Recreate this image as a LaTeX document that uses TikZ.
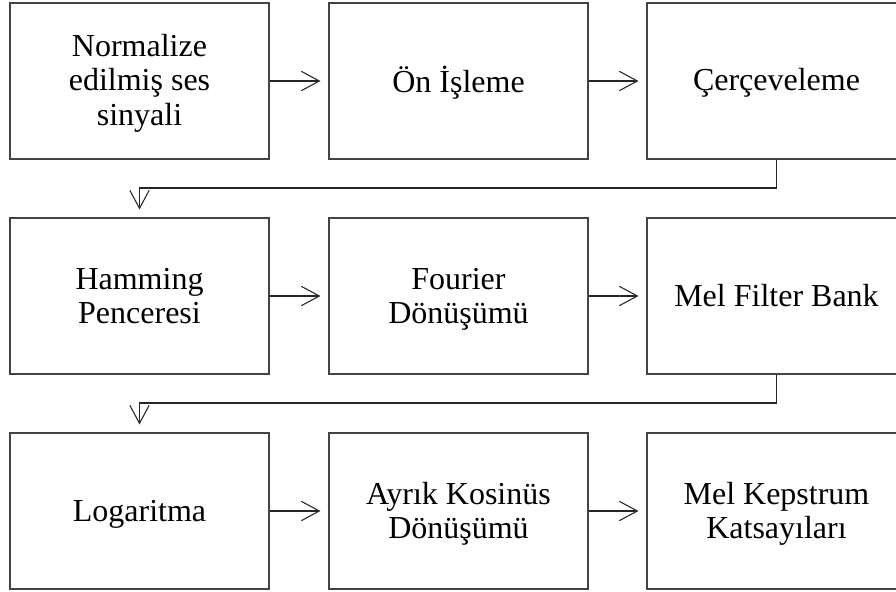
\documentclass[tikz,border=0pt]{standalone}
\usepackage{fontspec}
\setmainfont{Liberation Serif}
\usetikzlibrary{arrows.meta}
\definecolor{boxgray}{HTML}{444444}
\newcommand{\bxt}[1]{\raisebox{-2.4pt}[\height][\depth]{\begin{tabular}{@{}c@{}}#1\end{tabular}}}
\begin{document}
\begin{tikzpicture}[x=0.75pt,y=-0.75pt,
  stepbox/.style={draw=boxgray,line width=0.8pt,minimum width=194.25pt,minimum height=117pt,
    inner sep=0pt,align=center,font=\fontsize{24}{25.5}\selectfont,text=black},
  arr/.style={draw=black!85,line width=0.8pt,-{Straight Barb[length=13.5pt,width=14.5pt,line width=0.8pt]},shorten >=6pt}]
\useasboundingbox (0,0) rectangle (896,592);
\fill[white] (0,0) rectangle (896,592);
\node[stepbox] (a) at (139.5,81) {\bxt{Normalize\\edilmiş ses\\sinyali}};
\node[stepbox] (b) at (458.5,81) {\bxt{Ön İşleme}};
\node[stepbox] (c) at (776.5,81) {\bxt{Çerçeveleme}};
\node[stepbox] (d) at (139.5,296) {\bxt{Hamming\\Penceresi}};
\node[stepbox] (e) at (458.5,296) {\bxt{Fourier\\Dönüşümü}};
\node[stepbox] (f) at (776.5,296) {\bxt{Mel Filter Bank}};
\node[stepbox] (g) at (139.5,511) {\bxt{Logaritma}};
\node[stepbox] (h) at (458.5,511) {\bxt{Ayrık Kosinüs\\Dönüşümü}};
\node[stepbox] (i) at (776.5,511) {\bxt{Mel Kepstrum\\Katsayıları}};
\draw[arr] (a.east) -- (b.west);
\draw[arr] (b.east) -- (c.west);
\draw[arr] (d.east) -- (e.west);
\draw[arr] (e.east) -- (f.west);
\draw[arr] (g.east) -- (h.west);
\draw[arr] (h.east) -- (i.west);
\coordinate (c1) at (776.5,188);
\coordinate (c2) at (139.5,188);
\draw[arr] (c.south) -- (c1) -- (c2) -- (d.north);
\coordinate (f1) at (776.5,403);
\coordinate (f2) at (139.5,403);
\draw[arr] (f.south) -- (f1) -- (f2) -- (g.north);
\end{tikzpicture}
\end{document}
